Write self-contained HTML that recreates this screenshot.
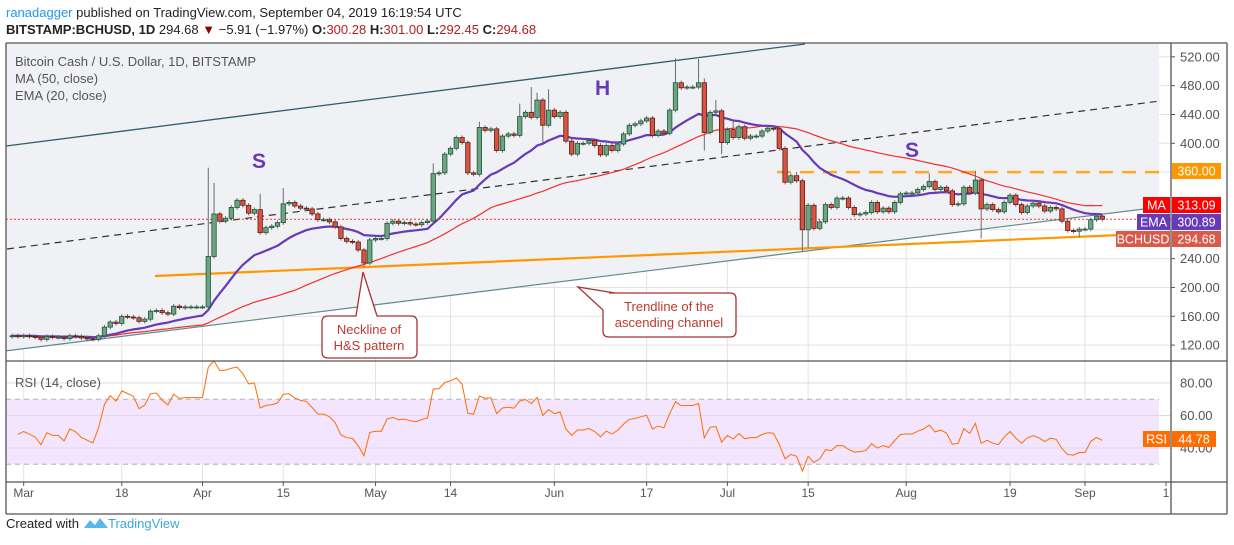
<!DOCTYPE html>
<html><head><meta charset="utf-8">
<style>
body{margin:0;background:#fff;font-family:"Liberation Sans",Arial,sans-serif;}
svg text{font-family:"Liberation Sans",Arial,sans-serif;}
</style></head>
<body>
<svg id="c" width="1234" height="540" viewBox="0 0 1234 540" xmlns="http://www.w3.org/2000/svg">
<text x="6" y="17" font-size="13" fill="#222"><tspan fill="#2196f3">ranadagger</tspan> published on TradingView.com, September 04, 2019 16:19:54 UTC</text>
<text x="6" y="34" font-size="13" fill="#222"><tspan font-weight="bold">BITSTAMP:BCHUSD, 1D</tspan> 294.68 <tspan fill="#8b0000">▼</tspan> −5.91 (−1.97%) <tspan font-weight="bold">O:</tspan><tspan fill="#b71c1c">300.28</tspan> <tspan font-weight="bold">H:</tspan><tspan fill="#b71c1c">301.00</tspan> <tspan font-weight="bold">L:</tspan><tspan fill="#b71c1c">292.45</tspan> <tspan font-weight="bold">C:</tspan><tspan fill="#b71c1c">294.68</tspan></text>
<g id="grid"></g>
<g id="shade"></g>
<g id="plot"></g>
<g id="axes"></g>
<text x="15" y="66" font-size="13" fill="#555">Bitcoin Cash / U.S. Dollar, 1D, BITSTAMP</text>
<text x="15" y="83" font-size="13" fill="#555">MA (50, close)</text>
<text x="15" y="100" font-size="13" fill="#555">EMA (20, close)</text>
<text x="15" y="387" font-size="13" fill="#555">RSI (14, close)</text>
<text x="6" y="528" font-size="13" fill="#222">Created with</text>
<path d="M84 528 l6 -8 l5 5 l5 -7 l8 10 z" fill="#5bb7e8"/>
<text x="108" y="528" font-size="13" fill="#3ea6df">TradingView</text>
</svg>
<script>
const closes=[133,132,133,132,131,128,132,131,131,129,133,132,130,129,128,133,
145,152,150,160,159,158,153,156,167,168,165,163,174,172,173,173,173,173,
243,302,292,296,311,321,314,303,308,276,283,285,290,316,318,313,310,309,302,294,294,291,284,268,264,263,252,234,266,268,268,289,292,289,290,288,287,290,292,
358,359,385,393,408,401,359,357,422,418,420,390,410,413,411,437,443,436,460,425,446,437,443,403,385,400,400,404,397,384,397,390,399,413,425,427,431,435,411,417,414,446,484,477,478,478,484,415,443,445,401,419,408,423,407,410,410,417,421,420,393,
346,355,348,280,314,282,291,315,311,324,324,311,301,302,304,318,305,310,305,318,330,331,331,336,340,347,336,339,334,315,316,339,331,349,309,315,308,305,318,328,315,304,313,317,313,306,311,309,292,279,278,281,281,294,299,294.68];
const firstDay=-2;
const highOverrides=[[32,366],[33,345],[41,330],[45,338],[71,372],[79,430],[86,455],[88,478],[89,470],[91,475],[113,518],[117,517],[118,490],[120,460],[123,430],[157,358],[165,362],[134,360]];
const lowOverrides=[[59,228],[135,250],[136,255],[166,268],[183,270],[71,290],[90,400],[121,385],[118,390]];
const priceTicks=[520,480,440,400,360,320,280,240,200,160,120];
const priceLabels=["520.00","480.00","440.00","400.00","","","","240.00","200.00","160.00","120.00"];
const rsiTicks=[80,60,40];
const xTickDays=[0,17,31,45,61,74,92,108,122,136,153,171,184,214];
const xTickLabels=["Mar","18","Apr","15","May","14","Jun","17","Jul","15","Aug","19","Sep","1"];

const NS="http://www.w3.org/2000/svg";
const X=d=>23.7+5.768*d;
const Y=p=>143.3+(400-p)*0.7208;
const RY=r=>448+(40-r)*1.625;
function mk(tag,attrs,parent){const e=document.createElementNS(NS,tag);for(const k in attrs)e.setAttribute(k,attrs[k]);parent.appendChild(e);return e;}
const grid=document.getElementById('grid'),plot=document.getElementById('plot'),axes=document.getElementById('axes'),shade=document.getElementById('shade');
const L=6,R=1171,RR=1227,TOP=43,MB=361,RB=482,BOT=514;

priceTicks.forEach(p=>{const l=mk('line',{x1:L,x2:R,y1:Y(p),y2:Y(p),stroke:'#e3e3e6','stroke-width':1},grid);

});
xTickDays.forEach(d=>{const x=X(d);if(x>R)return;const l=mk('line',{x1:x,x2:x,y1:TOP,y2:RB,stroke:'#e3e3e6','stroke-width':1},grid);

});
const band=mk('rect',{x:L,y:RY(70),width:1159-L,height:RY(30)-RY(70),fill:'#f3e5fd'},grid);


rsiTicks.forEach(r=>{const l=mk('line',{x1:L,x2:R,y1:RY(r),y2:RY(r),stroke:'#e0d8ea','stroke-width':1},grid);

});
[70,30].forEach(r=>{const l=mk('line',{x1:L,x2:1159,y1:RY(r),y2:RY(r),stroke:'#b8b0c0','stroke-dasharray':'5,4'},grid);

});

const lowLine=x=>351-0.1247*(x-5);
const sp=mk('polygon',{points:`${L},${TOP} 1159,${TOP} 1159,${lowLine(1159)} ${L},${lowLine(L)}`,fill:'#f0f1f4'},shade);



function ln(x1,y1,x2,y2,st,name){const l=mk('line',Object.assign({x1,y1,x2,y2},st),plot);

return l;}
ln(L,146,805,44,{stroke:'#2f5f6b','stroke-width':1.3},'upper-channel-line');
ln(L,lowLine(L),1163,lowLine(1163),{stroke:'#5f8a90','stroke-width':1.2},'lower-channel-line');
ln(7,249,1160,101,{stroke:'#333','stroke-width':1.2,'stroke-dasharray':'7,5'},'channel-midline');
ln(155,276,1121,235,{stroke:'#ff9800','stroke-width':2.2},'hs-neckline');
ln(777,Y(360),1160,Y(360),{stroke:'#ffa726','stroke-width':2.5,'stroke-dasharray':'14,9'},'resistance-360');

const n=closes.length;
const ma=[],ema=[];let k=2/21,e=closes[0];
for(let i=0;i<n;i++){const s=Math.max(0,i-49);let sum=0;for(let j=s;j<=i;j++)sum+=closes[j];ma.push(sum/(i-s+1));
e=i==0?closes[0]:closes[i]*k+e*(1-k);ema.push(e);}
function poly(vals,fy,color,w,name){const pts=vals.map((v,i)=>X(firstDay+i).toFixed(1)+','+fy(v).toFixed(1)).join(' ');
const p=mk('polyline',{points:pts,fill:'none',stroke:color,'stroke-width':w,'stroke-linejoin':'round'},plot);

}
poly(ma,Y,'#f23030',1.2,'ma50-line');
poly(ema,Y,'#673ab7',2.2,'ema20-line');

const lp=mk('line',{x1:L,x2:R,y1:Y(294.68),y2:Y(294.68),stroke:'#e53935','stroke-width':1,'stroke-dasharray':'2,2'},plot);



const hiMap={},loMap={};highOverrides.forEach(a=>hiMap[a[0]]=a[1]);lowOverrides.forEach(a=>loMap[a[0]]=a[1]);
for(let i=0;i<n;i++){const d=firstDay+i;const c=closes[i],o=i?closes[i-1]:132;
const hi=hiMap[d]!==undefined?hiMap[d]:Math.max(o,c)+3;const lo=loMap[d]!==undefined?loMap[d]:Math.min(o,c)-3;
const x=X(d),up=c>=o;
const w=mk('line',{x1:x,x2:x,y1:Y(hi),y2:Y(lo),stroke:'#6b6b6f','stroke-width':1},plot);


const t=Y(Math.max(o,c)),b=Y(Math.min(o,c));
const r=mk('rect',{x:x-2.2,y:t,width:4.4,height:Math.max(1,b-t),fill:up?'#6ba583':'#d75442',stroke:up?'#225437':'#5b1a13','stroke-width':0.8},plot);

}

// RSI (Wilder, seeded neutral)
const rsi=[];let ag=1.2,al=1.2;
for(let i=1;i<n;i++){const ch=closes[i]-closes[i-1];const g=Math.max(ch,0),l=Math.max(-ch,0);
ag=(ag*13+g)/14;al=(al*13+l)/14;
rsi.push(al==0?100:100-100/(1+ag/al));}
const rp=rsi.map((v,i)=>X(firstDay+i+1).toFixed(1)+','+RY(v).toFixed(1)).join(' ');
const rl=mk('polyline',{points:rp,fill:'none',stroke:'#ff6d00','stroke-width':1},plot);



function txt(x,y,s,attrs,parent,name){const t=mk('text',Object.assign({x,y},attrs),parent||plot);t.textContent=s;

return t;}
txt(252,168,'S',{'font-size':21,'font-weight':'bold',fill:'#673ab7'},plot,'left-shoulder-label');
txt(595,95,'H',{'font-size':21,'font-weight':'bold',fill:'#673ab7'},plot,'head-label');
txt(905,157,'S',{'font-size':21,'font-weight':'bold',fill:'#673ab7'},plot,'right-shoulder-label');
const c1=mk('path',{d:'M328 316 H356 L363 272 L377 316 H411 Q417 316 417 322 V352 Q417 358 411 358 H328 Q322 358 322 352 V322 Q322 316 328 316 Z',fill:'#fff',stroke:'#a83232','stroke-width':1.3},plot);


txt(369,334,'Neckline of',{'font-size':13,fill:'#c0392b','text-anchor':'middle'},plot,'neckline-callout-text-1');
txt(369,350,'H&S pattern',{'font-size':13,fill:'#c0392b','text-anchor':'middle'},plot,'neckline-callout-text-2');
const c2=mk('path',{d:'M609 293 H730 Q736 293 736 299 V331 Q736 337 730 337 H609 Q603 337 603 331 V310 L578 287 L615 293 Z',fill:'#fff',stroke:'#a83232','stroke-width':1.3},plot);


txt(669,311,'Trendline of the',{'font-size':13,fill:'#c0392b','text-anchor':'middle'},plot,'trendline-callout-text-1');
txt(669,327,'ascending channel',{'font-size':13,fill:'#c0392b','text-anchor':'middle'},plot,'trendline-callout-text-2');

[[L,TOP,RR,TOP],[L,TOP,L,BOT],[RR,TOP,RR,BOT],[L,BOT,RR,BOT],[R,TOP,R,BOT],[L,MB,RR,MB],[L,RB,RR,RB]].forEach(a=>{
const l=mk('line',{x1:a[0],y1:a[1],x2:a[2],y2:a[3],stroke:'#555','stroke-width':1.3},axes);

});
priceTicks.forEach((p,i)=>{if(!priceLabels[i])return;
const tk=mk('line',{x1:R,x2:R+4,y1:Y(p),y2:Y(p),stroke:'#555'},axes);


txt(1180,Y(p)+4.5,priceLabels[i],{'font-size':13,fill:'#555'},axes,'price-tick-label');});
rsiTicks.forEach(r=>{txt(1180,RY(r)+4.5,r.toFixed(2),{'font-size':13,fill:'#555'},axes,'rsi-tick-label');});
xTickDays.forEach((d,i)=>{let x=X(d);if(x>R+2)x=1166;
const tk=mk('line',{x1:x,x2:x,y1:RB,y2:RB+4,stroke:'#555'},axes);


txt(x,497,xTickLabels[i],{'font-size':12,fill:'#555','text-anchor':'middle'},axes,'time-tick-label');});

function badge(x,y,w,h,color,label,name){const r=mk('rect',{x,y,width:w,height:h,fill:color},axes);


txt(x+w/2,y+h/2+4.5,label,{'font-size':12.5,fill:'#fff','text-anchor':'middle'},axes,name+'-text');}
badge(1172,163,49,16,'#ff9800','360.00','badge-360');
badge(1143,197,27,16,'#ff0000','MA','badge-ma-label');
badge(1172,197,49,16,'#ff0000','313.09','badge-ma-value');
badge(1137,214,33,16,'#673ab7','EMA','badge-ema-label');
badge(1172,214,49,16,'#673ab7','300.89','badge-ema-value');
badge(1116,231,54,16,'#d9594a','BCHUSD','badge-bchusd-label');
badge(1172,231,49,16,'#d9594a','294.68','badge-bchusd-value');
badge(1143,431,27,16,'#ff6d00','RSI','badge-rsi-label');
badge(1172,431,44,16,'#ff6d00','44.78','badge-rsi-value');
</script>
</body></html>
